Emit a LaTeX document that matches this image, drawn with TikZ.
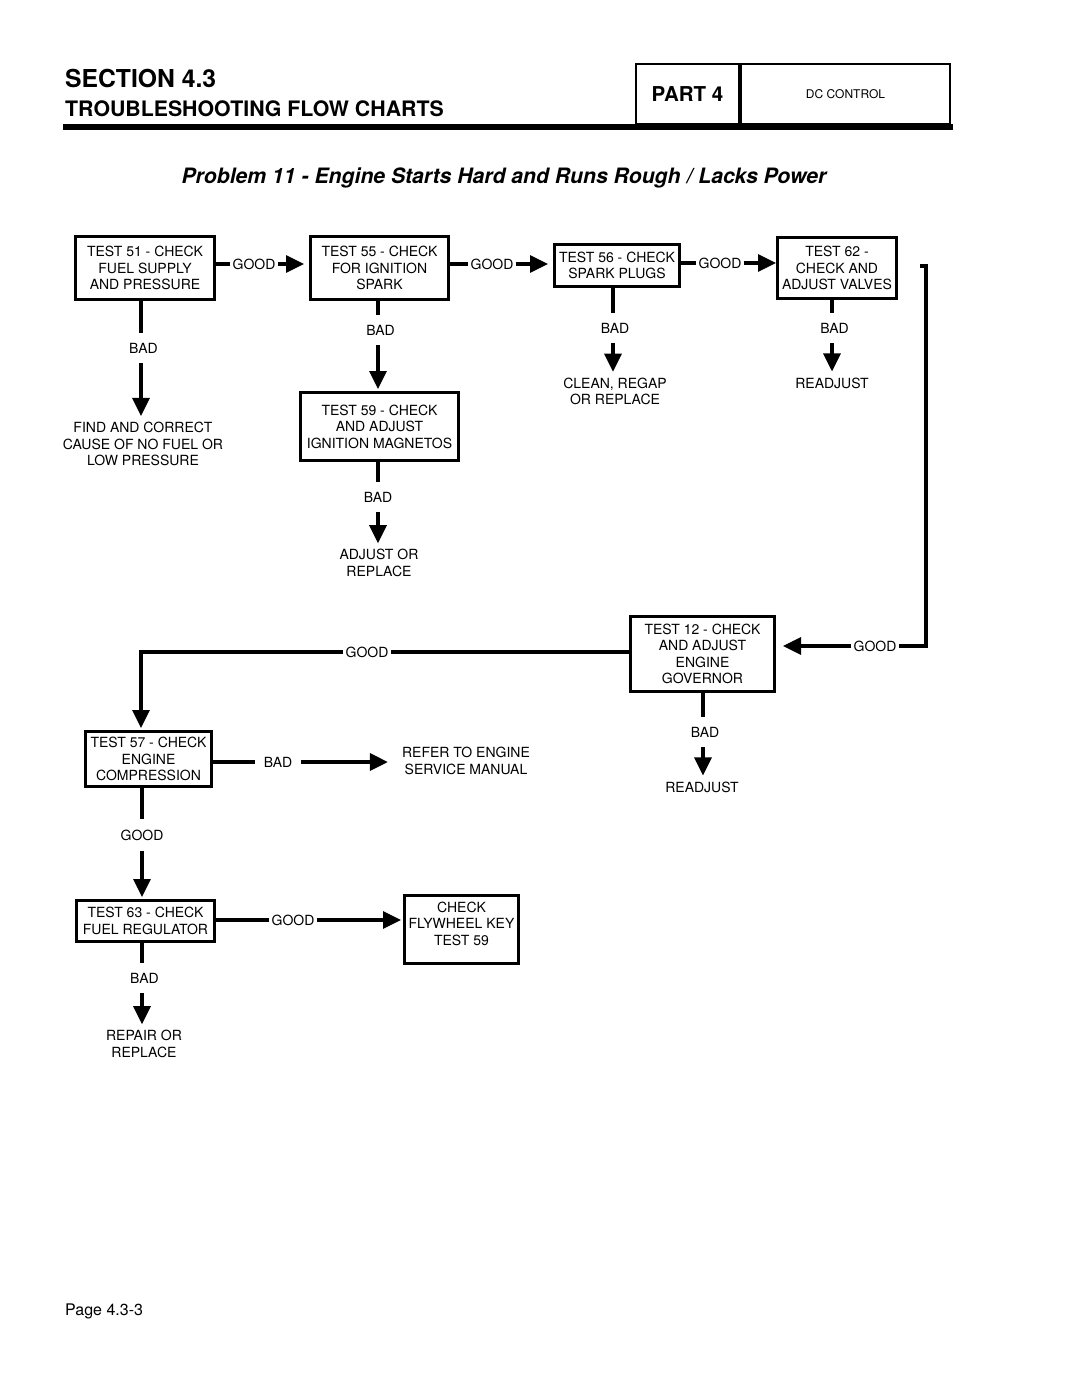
\documentclass[tikz,border=0pt]{standalone}
\usepackage{fontspec}
\setmainfont{TeX Gyre Heros}
\usetikzlibrary{arrows.meta}
\newcommand\flowfont{\fontsize{14}{16.5}\selectfont}
\begin{document}
\begin{tikzpicture}[x=1pt,y=-1pt,
  box/.style={draw, line width=3pt, align=center, inner sep=0pt, font=\flowfont},
  lab/.style={inner xsep=2pt, inner ysep=0pt, font=\flowfont},
  vlab/.style={inner xsep=0pt, inner ysep=10pt, font=\flowfont},
  outc/.style={align=center, inner sep=6pt, font=\flowfont},
  conn/.style={line width=3.2pt},
  arr/.style={conn, -{Triangle[length=18pt,width=17pt]}},
  hdrbox/.style={draw, line width=2pt, inner sep=0pt},
]
\useasboundingbox (0,0) rectangle (1080,1397);

% header
\node[anchor=base west, inner sep=0pt, font=\fontsize{24.7}{28}\selectfont\bfseries] (sec) at (65,88) {SECTION 4.3};
\node[anchor=base west, inner sep=0pt, font=\fontsize{21.3}{24}\selectfont\bfseries] (tfc) at (65,116) {TROUBLESHOOTING FLOW CHARTS};
\node[hdrbox, minimum width=103, minimum height=60, font=\fontsize{20.5}{24}\selectfont\bfseries] (part) at (687.5,94) {PART 4};
\node[hdrbox, minimum width=209, minimum height=60, font=\fontsize{12}{14}\selectfont] (dcc) at (845.5,94) {DC CONTROL};
\fill (63,124) rectangle (953,130);
\node[anchor=base, inner sep=0pt, font=\fontsize{21.2}{24}\selectfont\bfseries\itshape] (title) at (504,183) {Problem 11 - Engine Starts Hard and Runs Rough / Lacks Power};

% boxes
\node[box, minimum width=139, minimum height=63] (t51) at (145,268) {TEST 51 - CHECK\\FUEL SUPPLY\\AND PRESSURE};
\node[box, minimum width=138, minimum height=63] (t55) at (379.5,268) {TEST 55 - CHECK\\FOR IGNITION\\SPARK};
\node[box, minimum width=125, minimum height=42] (t56) at (617,265.5) {TEST 56 - CHECK\\SPARK PLUGS};
\node[box, minimum width=119, minimum height=61] (t62) at (837,268) {TEST 62 -\\CHECK AND\\ADJUST VALVES};
\node[box, minimum width=158, minimum height=68] (t59) at (379.5,426.5) {TEST 59 - CHECK\\AND ADJUST\\IGNITION MAGNETOS};
\node[box, minimum width=144, minimum height=75] (t12) at (702.5,654) {TEST 12 - CHECK\\AND ADJUST\\ENGINE\\GOVERNOR};
\node[box, minimum width=126, minimum height=55] (t57) at (148.5,759) {TEST 57 - CHECK\\ENGINE\\COMPRESSION};
\node[box, minimum width=138, minimum height=41] (t63) at (145.5,921) {TEST 63 - CHECK\\FUEL REGULATOR};
\node[box, minimum width=114, minimum height=68] (fw) at (461.5,929.5) {CHECK\\FLYWHEEL KEY\\TEST 59\\[-5pt]{}};

% outcome texts
\node[outc] (fix1) at (143,444) {FIND AND CORRECT\\CAUSE OF NO FUEL OR\\LOW PRESSURE};
\node[outc] (adj) at (379,563) {ADJUST OR\\REPLACE};
\node[outc] (clean) at (615,391.5) {CLEAN, REGAP\\OR REPLACE};
\node[outc] (readj1) at (832,383) {READJUST};
\node[outc] (readj2) at (702,787) {READJUST};
\node[outc] (refer) at (466,761) {REFER TO ENGINE\\SERVICE MANUAL};
\node[outc] (repair) at (144,1044) {REPAIR OR\\REPLACE};

% labels
\node[lab] (g1) at (254,264) {GOOD};
\node[lab] (g2) at (492,264) {GOOD};
\node[lab] (g3) at (720,263) {GOOD};
\node[lab] (g5) at (875,646) {GOOD};
\node[lab] (g6) at (367,652) {GOOD};
\node[lab] (g8) at (293,920) {GOOD};
\node[lab, inner xsep=9pt] (b7) at (278,762) {BAD};
\node[vlab] (b1) at (141,348) {\hspace*{5pt}BAD};
\node[vlab] (b2) at (378,330) {\hspace*{5pt}BAD};
\node[vlab] (b3) at (378,497) {BAD};
\node[vlab] (b4) at (613,328) {\hspace*{4pt}BAD};
\node[vlab] (b5) at (832,328) {\hspace*{5pt}BAD};
\node[vlab] (b6) at (703,732) {\hspace*{4pt}BAD};
\node[vlab] (g7) at (142,835) {GOOD};
\node[vlab] (b8) at (142,978) {\hspace*{5pt}BAD};

\coordinate (r0) at (920,266);
\coordinate (r1) at (926,266);
\coordinate (k1) at (141,652);

% connectors: GOOD chain
\draw[conn] (t51.east |- g1) -- (g1.west);
\draw[arr, shorten >=5pt] (g1.east) -- (t55.west |- g1);
\draw[conn] (t55.east |- g2) -- (g2.west);
\draw[arr, shorten >=5pt] (g2.east) -- (t56.west |- g2);
\draw[conn] (t56.east |- g3) -- (g3.west);
\draw[arr] (g3.east) -- (t62.west |- g3);
\draw[conn] (r0) -- (r1) -- (r1 |- g5) -- (g5.east);
\draw[arr, shorten >=7pt] (g5.west) -- (t12.east |- g5);
\draw[conn] (t12.west |- g6) -- (g6.east);
\draw[arr, shorten >=2pt] (g6.west) -- (k1) -- (k1 |- t57.north);
\draw[conn] (t57.south -| g7) -- (g7.north);
\draw[arr, shorten >=2pt] (g7.south) -- (g7 |- t63.north);
\draw[conn] (t63.east |- g8) -- (g8.west);
\draw[arr, shorten >=2pt] (g8.east) -- (fw.west |- g8);

% BAD branches
\draw[conn] (t51.south -| b1) -- (b1.north);
\draw[arr] (b1.south) -- (b1 |- fix1.north);
\draw[conn] (t55.south -| b2) -- (b2.north);
\draw[arr, shorten >=2pt] (b2.south) -- (b2 |- t59.north);
\draw[conn] (t59.south -| b3) -- (b3.north);
\draw[arr] (b3.south) -- (b3 |- adj.north);
\draw[conn] (t56.south -| b4) -- (b4.north);
\draw[arr] (b4.south) -- (b4 |- clean.north);
\draw[conn] (t62.south -| b5) -- (b5.north);
\draw[arr] (b5.south) -- (b5 |- readj1.north);
\draw[conn] (t12.south -| b6) -- (b6.north);
\draw[arr] (b6.south) -- (b6 |- readj2.north);
\draw[conn] (t57.east |- b7) -- (b7.west);
\draw[arr, shorten >=8pt] (b7.east) -- (refer.west |- b7);
\draw[conn] (t63.south -| b8) -- (b8.north);
\draw[arr] (b8.south) -- (b8 |- repair.north);

% footer
\node[anchor=base west, inner sep=0pt, font=\fontsize{16}{19}\selectfont] (page) at (65,1315) {Page 4.3-3};
\end{tikzpicture}
\end{document}
